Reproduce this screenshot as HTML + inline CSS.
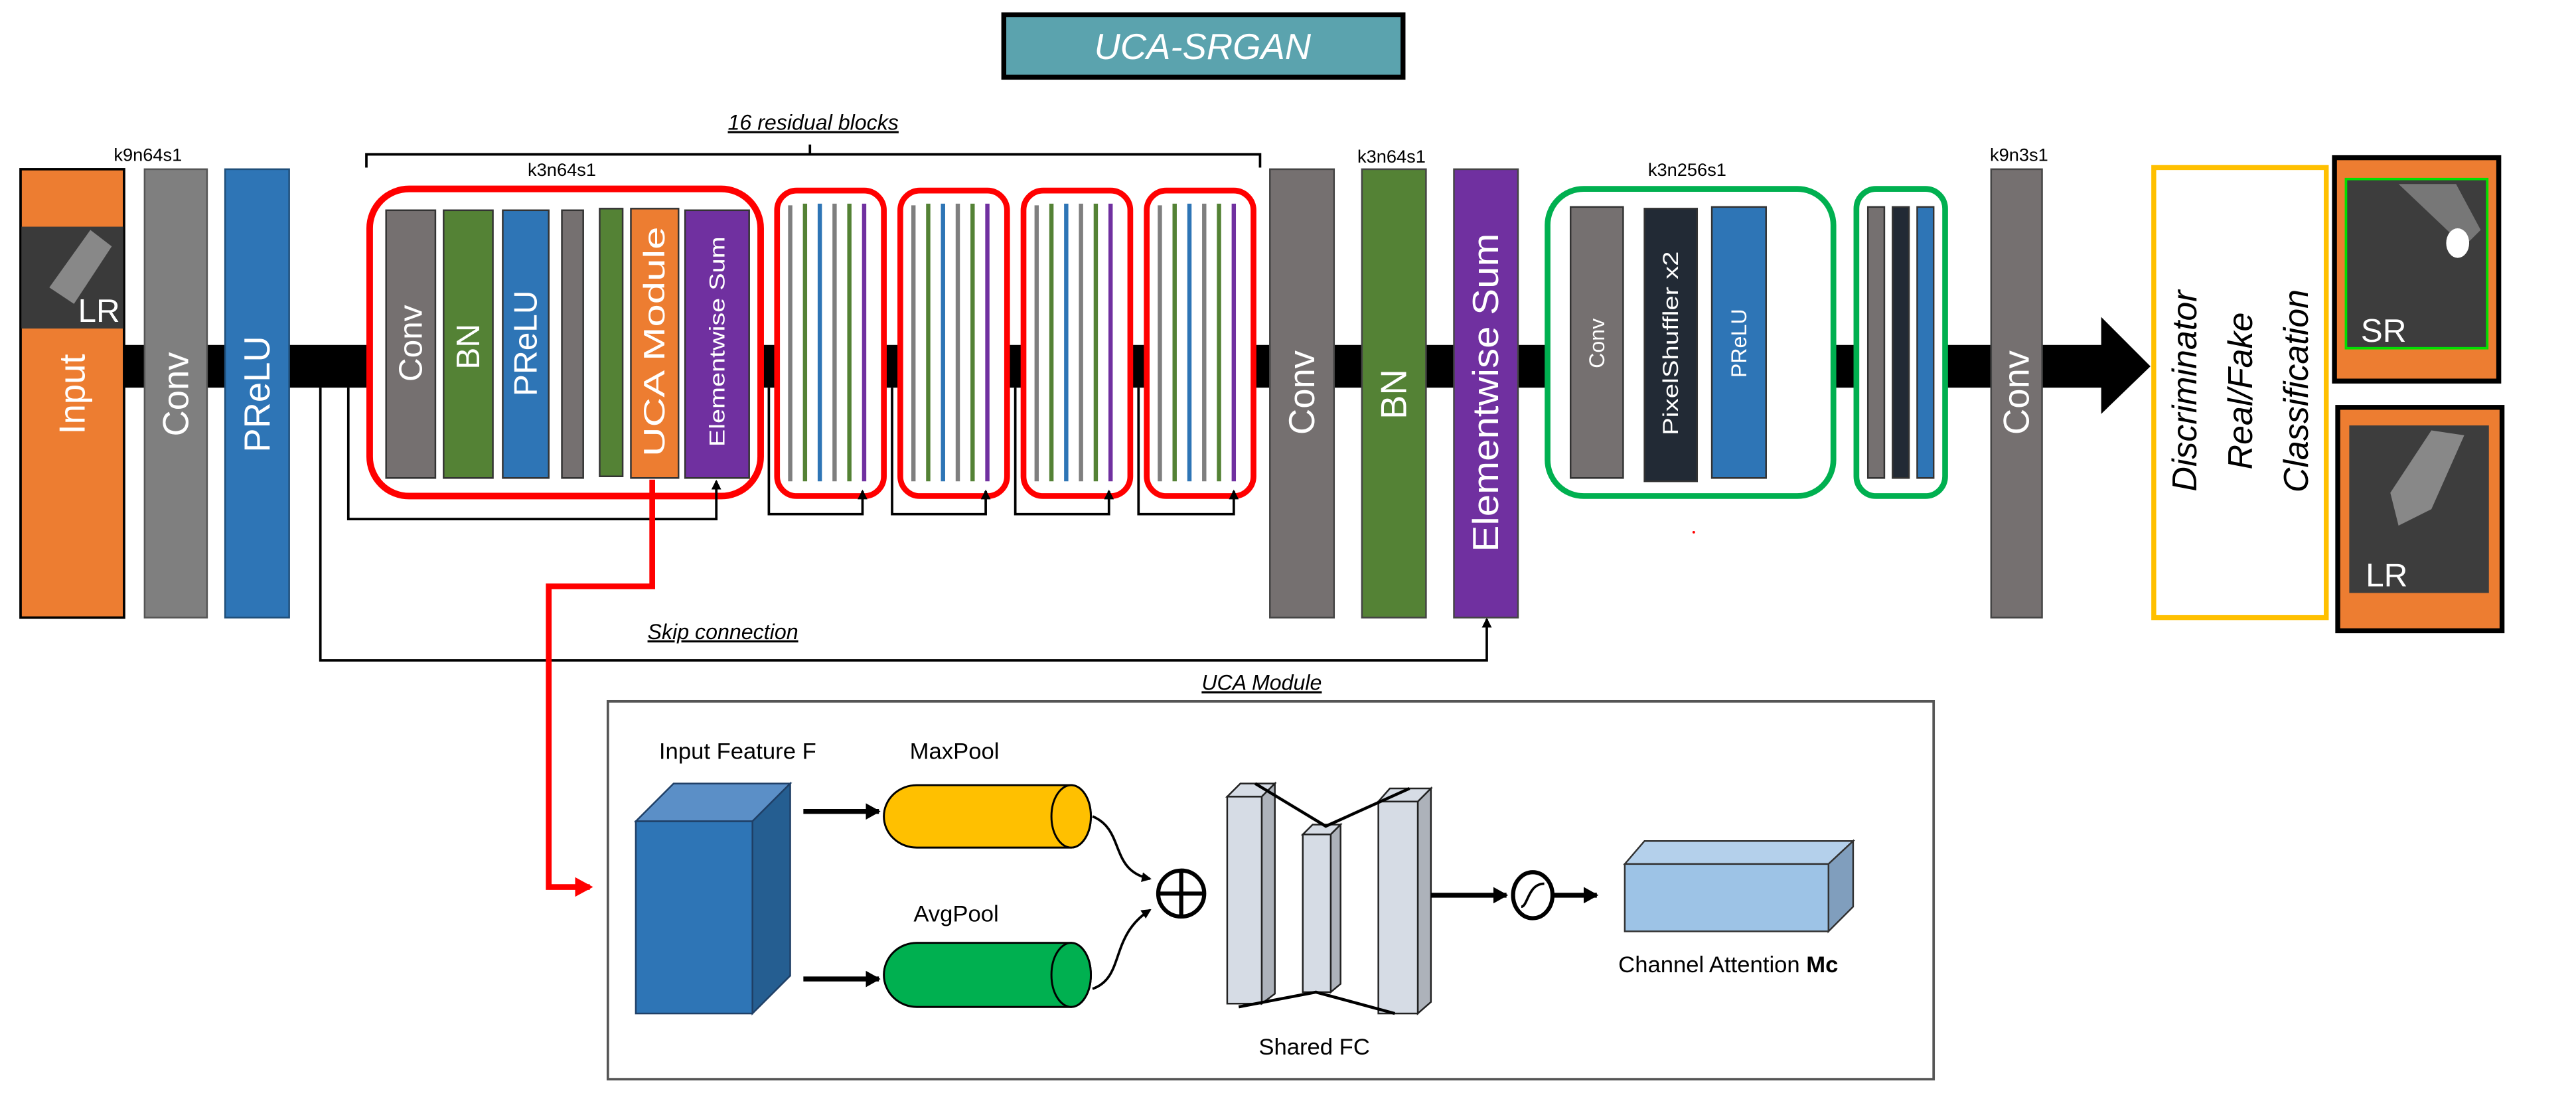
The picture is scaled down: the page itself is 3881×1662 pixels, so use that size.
<!DOCTYPE html>
<html><head><meta charset="utf-8"><style>
html,body{margin:0;padding:0;background:#fff;}
svg{display:block;}
text{font-family:"Liberation Sans",sans-serif;}
</style></head><body>
<svg width="3881" height="1662" viewBox="0 0 1568 671.5" xmlns="http://www.w3.org/2000/svg">
<defs>
<marker id="ah" markerWidth="6" markerHeight="6" refX="5" refY="3" orient="auto" markerUnits="userSpaceOnUse"><path d="M0,0 L6,3 L0,6 z" fill="#000"/></marker>
<marker id="ah2" markerWidth="10" markerHeight="10" refX="8" refY="5" orient="auto" markerUnits="userSpaceOnUse"><path d="M0,0 L9,5 L0,10 z" fill="#000"/></marker>
<marker id="ahr" markerWidth="12" markerHeight="12" refX="9" refY="6" orient="auto" markerUnits="userSpaceOnUse"><path d="M0,0 L11,6 L0,12 z" fill="#f00"/></marker>
</defs>

<!-- title -->
<rect x="611" y="9" width="243" height="38" fill="#5BA3AE" stroke="#000" stroke-width="3"/>
<text x="732" y="36" font-size="22" font-style="italic" fill="#fff" text-anchor="middle">UCA-SRGAN</text>

<text x="495" y="79" font-size="13" font-style="italic" text-anchor="middle" text-decoration="underline">16 residual blocks</text>
<path d="M223,102 V94 H767 V102 M493,94 V88" fill="none" stroke="#000" stroke-width="1.5"/>

<!-- main bar -->
<rect x="75" y="210" width="1207" height="26" fill="#000"/>
<polygon points="1279,193 1309,223 1279,252" fill="#000"/>

<!-- labels -->
<text x="90" y="98" font-size="11" text-anchor="middle">k9n64s1</text>
<text x="342" y="107" font-size="11" text-anchor="middle">k3n64s1</text>
<text x="847" y="99" font-size="11" text-anchor="middle">k3n64s1</text>
<text x="1027" y="107" font-size="11" text-anchor="middle">k3n256s1</text>
<text x="1229" y="98" font-size="11" text-anchor="middle">k9n3s1</text>

<!-- input -->
<rect x="12.5" y="103" width="63" height="273" fill="#ED7D31" stroke="#000" stroke-width="1.5"/>
<rect x="13" y="138" width="62" height="62" fill="#3a3a3a"/>
<path d="M30,175 L55,140 L68,150 L45,185 z" fill="#888"/>
<text x="73" y="196" font-size="20" fill="#fff" text-anchor="end">LR</text>
<text transform="translate(44,240) rotate(-90)" font-size="22" fill="#fff" text-anchor="middle" dominant-baseline="central">Input</text>

<rect x="88" y="103" width="38" height="273" fill="#7F7F7F" stroke="#555" stroke-width="1"/>
<text transform="translate(107,240) rotate(-90)" font-size="22" fill="#fff" text-anchor="middle" dominant-baseline="central">Conv</text>
<rect x="137" y="103" width="39" height="273" fill="#2E75B6" stroke="#1f4e79" stroke-width="1"/>
<text transform="translate(156.5,240) rotate(-90)" font-size="22" fill="#fff" text-anchor="middle" dominant-baseline="central">PReLU</text>

<!-- residual block 1 -->
<rect x="225" y="115" width="238" height="187" rx="24" fill="#fff" stroke="#f00" stroke-width="4"/>
<rect x="235" y="128" width="30" height="163" fill="#757070" stroke="#333" stroke-width="1"/>
<text transform="translate(250,209) rotate(-90)" font-size="20" fill="#fff" text-anchor="middle" dominant-baseline="central">Conv</text>
<rect x="270" y="128" width="30" height="163" fill="#548235" stroke="#333" stroke-width="1"/>
<text transform="translate(285,211) rotate(-90)" font-size="20" fill="#fff" text-anchor="middle" dominant-baseline="central">BN</text>
<rect x="306" y="128" width="28" height="163" fill="#2E75B6" stroke="#333" stroke-width="1"/>
<text transform="translate(320,209) rotate(-90)" font-size="20" fill="#fff" text-anchor="middle" dominant-baseline="central">PReLU</text>
<rect x="342" y="128" width="13" height="163" fill="#757070" stroke="#333" stroke-width="1"/>
<rect x="365" y="127" width="14" height="163" fill="#548235" stroke="#333" stroke-width="1"/>
<rect x="384" y="127" width="29" height="164" fill="#ED7D31" stroke="#333" stroke-width="1"/>
<text transform="translate(398.5,208) rotate(-90)" font-size="18" fill="#fff" text-anchor="middle" dominant-baseline="central" textLength="140" lengthAdjust="spacingAndGlyphs">UCA Module</text>
<rect x="417" y="128" width="39" height="163" fill="#7030A0" stroke="#333" stroke-width="1"/>
<text transform="translate(436.5,208) rotate(-90)" font-size="13" fill="#fff" text-anchor="middle" dominant-baseline="central" textLength="128" lengthAdjust="spacingAndGlyphs">Elementwise Sum</text>

<!-- small residual blocks -->
<g stroke-width="2.6">
<g id="sb">
<rect x="473" y="116" width="65" height="186" rx="12" fill="#fff" stroke="#f00" stroke-width="3.5"/>
<line x1="481" y1="125" x2="481" y2="293" stroke="#7F7F7F"/>
<line x1="490" y1="124" x2="490" y2="293" stroke="#548235"/>
<line x1="499" y1="124" x2="499" y2="293" stroke="#2E75B6"/>
<line x1="508" y1="124" x2="508" y2="293" stroke="#7F7F7F"/>
<line x1="517" y1="124" x2="517" y2="293" stroke="#548235"/>
<line x1="526" y1="124" x2="526" y2="293" stroke="#7030A0"/>
</g>
<use href="#sb" x="75"/>
<use href="#sb" x="150"/>
<use href="#sb" x="225"/>
</g>

<!-- skip arrows -->
<g fill="none" stroke="#000" stroke-width="1.5">
<path d="M212,236 V316 H436 V293" marker-end="url(#ah)"/>
<path d="M468,236 V313 H525 V299" marker-end="url(#ah)"/>
<path d="M543,236 V313 H600 V299" marker-end="url(#ah)"/>
<path d="M618,236 V313 H675 V299" marker-end="url(#ah)"/>
<path d="M693,236 V313 H751 V299" marker-end="url(#ah)"/>
<path d="M195,236 V402 H905 V377" marker-end="url(#ah)"/>
</g>
<text x="440" y="389" font-size="13" font-style="italic" text-anchor="middle" text-decoration="underline">Skip connection</text>

<!-- red UCA link -->
<path d="M397,292 V357 H334 V540 H359" fill="none" stroke="#f00" stroke-width="3.5" marker-end="url(#ahr)"/>

<!-- right side columns -->
<rect x="773" y="103" width="39" height="273" fill="#757070" stroke="#444" stroke-width="1"/>
<text transform="translate(792.5,239) rotate(-90)" font-size="22" fill="#fff" text-anchor="middle" dominant-baseline="central">Conv</text>
<rect x="829" y="103" width="39" height="273" fill="#548235" stroke="#444" stroke-width="1"/>
<text transform="translate(848.5,240) rotate(-90)" font-size="22" fill="#fff" text-anchor="middle" dominant-baseline="central">BN</text>
<rect x="885" y="103" width="39" height="273" fill="#7030A0" stroke="#444" stroke-width="1"/>
<text transform="translate(904.5,239) rotate(-90)" font-size="22" fill="#fff" text-anchor="middle" dominant-baseline="central" textLength="194" lengthAdjust="spacingAndGlyphs">Elementwise Sum</text>

<!-- green block 1 -->
<rect x="942" y="115" width="174" height="187" rx="22" fill="#fff" stroke="#00B050" stroke-width="3.5"/>
<rect x="956" y="126" width="32" height="165" fill="#757070" stroke="#333" stroke-width="1"/>
<text transform="translate(972,209) rotate(-90)" font-size="13" fill="#fff" text-anchor="middle" dominant-baseline="central">Conv</text>
<rect x="1001" y="127" width="32" height="166" fill="#222A35" stroke="#333" stroke-width="1"/>
<text transform="translate(1017,209) rotate(-90)" font-size="13" fill="#fff" text-anchor="middle" dominant-baseline="central" textLength="112" lengthAdjust="spacingAndGlyphs">PixelShuffler x2</text>
<rect x="1042" y="126" width="33" height="165" fill="#2E75B6" stroke="#333" stroke-width="1"/>
<text transform="translate(1058.5,209) rotate(-90)" font-size="13" fill="#fff" text-anchor="middle" dominant-baseline="central">PReLU</text>

<!-- green block 2 -->
<rect x="1130" y="115" width="54" height="187" rx="12" fill="#fff" stroke="#00B050" stroke-width="3.5"/>
<rect x="1137" y="126" width="10" height="165" fill="#757070" stroke="#333" stroke-width="1"/>
<rect x="1152" y="126" width="10" height="165" fill="#222A35" stroke="#333" stroke-width="1"/>
<rect x="1167" y="126" width="10" height="165" fill="#2E75B6" stroke="#333" stroke-width="1"/>

<rect x="1212" y="103" width="31" height="273" fill="#757070" stroke="#444" stroke-width="1"/>
<text transform="translate(1227.5,239) rotate(-90)" font-size="22" fill="#fff" text-anchor="middle" dominant-baseline="central">Conv</text>

<!-- discriminator -->
<rect x="1311" y="102" width="105" height="274" fill="#fff" stroke="#FFC000" stroke-width="3"/>
<g font-size="21" font-style="italic" text-anchor="middle" dominant-baseline="central">
<text transform="translate(1330,238) rotate(-90)">Discriminator</text>
<text transform="translate(1364,238) rotate(-90)">Real/Fake</text>
<text transform="translate(1398,238) rotate(-90)">Classification</text>
</g>

<!-- SR image -->
<rect x="1421" y="96" width="100" height="136" fill="#ED7D31" stroke="#000" stroke-width="3"/>
<rect x="1428" y="109" width="86" height="103" fill="#3d3d3d" stroke="#00e000" stroke-width="1.5"/>
<path d="M1460,112 L1495,112 L1510,140 L1500,150 z" fill="#777"/>
<ellipse cx="1496" cy="148" rx="7" ry="9" fill="#fff"/>
<text x="1437" y="208" font-size="20" fill="#fff">SR</text>
<!-- LR image -->
<rect x="1423" y="248" width="100" height="136" fill="#ED7D31" stroke="#000" stroke-width="3"/>
<rect x="1430" y="259" width="85" height="102" fill="#3d3d3d"/>
<path d="M1455,300 L1480,262 L1500,265 L1480,310 L1460,320 z" fill="#888"/>
<text x="1440" y="357" font-size="20" fill="#fff">LR</text>

<!-- UCA module box -->
<text x="768" y="420" font-size="13" font-style="italic" text-anchor="middle" text-decoration="underline">UCA Module</text>
<rect x="370" y="427" width="807" height="230" fill="#fff" stroke="#555" stroke-width="1.5"/>

<text x="449" y="462" font-size="14" text-anchor="middle">Input Feature F</text>
<text x="581" y="462" font-size="14" text-anchor="middle">MaxPool</text>
<text x="582" y="561" font-size="14" text-anchor="middle">AvgPool</text>
<text x="800" y="642" font-size="14" text-anchor="middle">Shared FC</text>
<text x="1052" y="592" font-size="14" text-anchor="middle">Channel Attention <tspan font-weight="bold">Mc</tspan></text>

<!-- blue cuboid -->
<polygon points="387,500 410,477 481,477 458,500" fill="#5B8FC7" stroke="#1f3f66" stroke-width="1"/>
<polygon points="458,500 481,477 481,594 458,617" fill="#255E91" stroke="#1f3f66" stroke-width="1"/>
<rect x="387" y="500" width="71" height="117" fill="#2E75B6" stroke="#1f3f66" stroke-width="1"/>

<path d="M489,494 H535" stroke="#000" stroke-width="3" marker-end="url(#ah2)"/>
<path d="M489,596 H535" stroke="#000" stroke-width="3" marker-end="url(#ah2)"/>

<!-- cylinders -->
<path d="M558,478 H652 A12,19 0 0 1 652,516 H558 A20,19 0 0 1 558,478 z" fill="#FFC000" stroke="#000" stroke-width="1.2"/>
<ellipse cx="652" cy="497" rx="12" ry="19" fill="#FFC000" stroke="#000" stroke-width="1.2"/>
<path d="M558,574 H652 A12,19.5 0 0 1 652,613 H558 A20,19.5 0 0 1 558,574 z" fill="#00B050" stroke="#000" stroke-width="1.2"/>
<ellipse cx="652" cy="593.5" rx="12" ry="19.5" fill="#00B050" stroke="#000" stroke-width="1.2"/>

<path d="M665,497 C685,505 675,530 700,535" fill="none" stroke="#000" stroke-width="1.5" marker-end="url(#ah)"/>
<path d="M665,602 C685,595 675,570 700,554" fill="none" stroke="#000" stroke-width="1.5" marker-end="url(#ah)"/>
<circle cx="719" cy="544" r="14" fill="#fff" stroke="#000" stroke-width="2.5"/>
<path d="M705,544 H733 M719,530 V558" stroke="#000" stroke-width="2.5"/>

<!-- shared FC slabs -->
<g stroke="#222" stroke-width="1">
<polygon points="747,485 755,477 776,477 768,485" fill="#D6DCE5"/>
<polygon points="768,485 776,477 776,605 768,611" fill="#ADB2BA"/>
<rect x="747" y="485" width="21" height="126" fill="#D6DCE5"/>
<polygon points="793,508 799,502 816,502 810,508" fill="#D6DCE5"/>
<polygon points="810,508 816,502 816,599 810,604" fill="#ADB2BA"/>
<rect x="793" y="508" width="17" height="96" fill="#D6DCE5"/>
<polygon points="839,488 846,480 871,480 863,488" fill="#D6DCE5"/>
<polygon points="863,488 871,480 871,610 863,617" fill="#ADB2BA"/>
<rect x="839" y="488" width="24" height="129" fill="#D6DCE5"/>
</g>
<path d="M764,477 L807,503 L858,480 M754,613 L801,604 L849,617" fill="none" stroke="#000" stroke-width="1.8"/>

<path d="M871,545 H917" stroke="#000" stroke-width="3" marker-end="url(#ah2)"/>
<ellipse cx="933" cy="545" rx="12" ry="14" fill="#fff" stroke="#000" stroke-width="2.5"/>
<path d="M926,552 C930,552 930,538 940,538" fill="none" stroke="#000" stroke-width="1.5"/>
<path d="M946,545 H972" stroke="#000" stroke-width="3" marker-end="url(#ah2)"/>

<!-- light blue cuboid -->
<polygon points="989,526 1001,512 1128,512 1113,526" fill="#B4D0EB" stroke="#333" stroke-width="1"/>
<polygon points="1113,526 1128,512 1128,552 1113,567" fill="#809EBD" stroke="#333" stroke-width="1"/>
<rect x="989" y="526" width="124" height="41" fill="#9DC3E6" stroke="#333" stroke-width="1"/>

<circle cx="1031" cy="324" r="0.8" fill="#f00"/>
</svg>
</body></html>
